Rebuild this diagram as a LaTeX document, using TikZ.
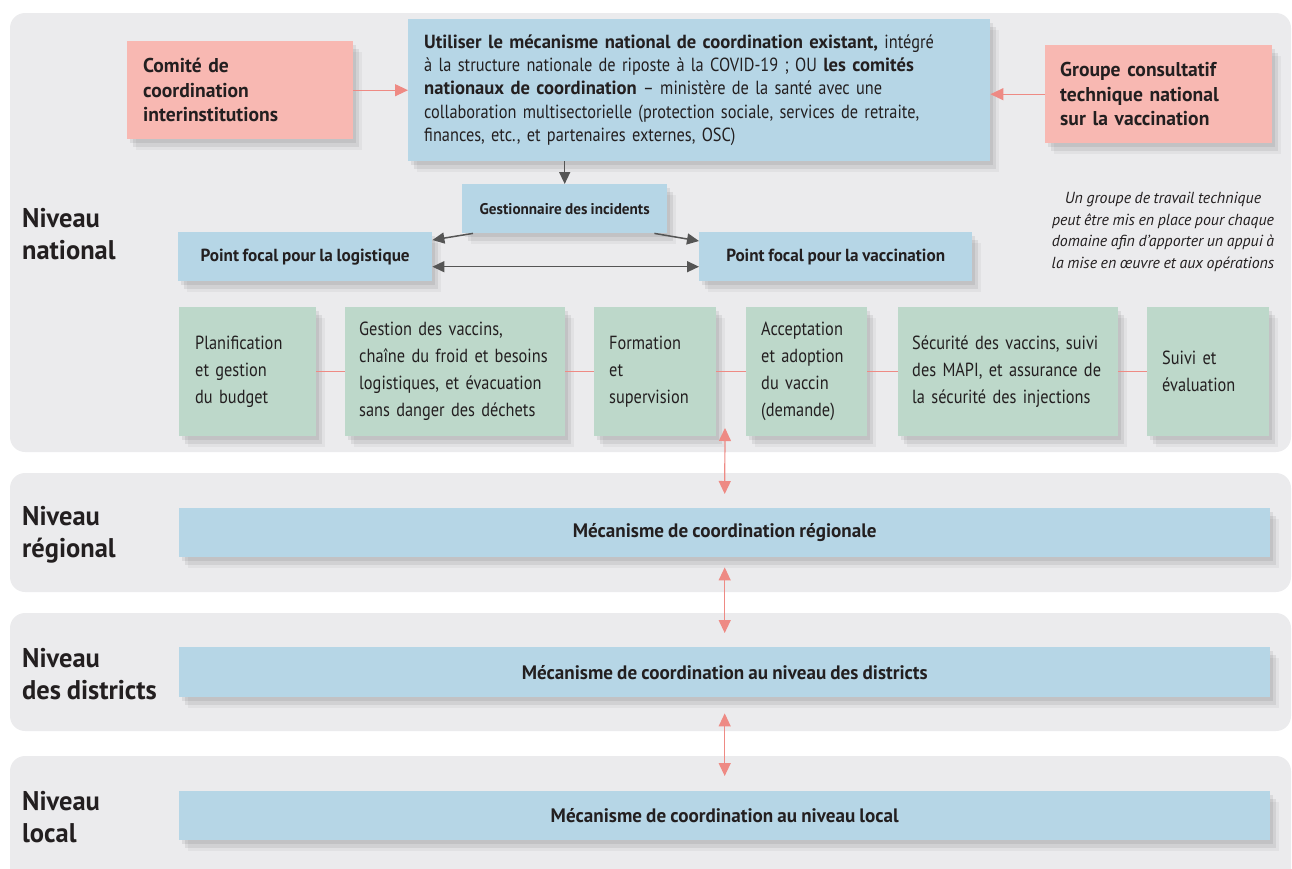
\documentclass[tikz,border=0pt]{standalone}
\usepackage{fontspec}
\setmainfont{PT Sans}[FakeStretch=0.86,WordSpace=0.85,BoldFeatures={FakeStretch=0.98},ItalicFeatures={FakeStretch=0.99}]
\usetikzlibrary{arrows.meta,shadows}
\definecolor{bandgray}{RGB}{235,235,237}
\definecolor{boxblue}{RGB}{182,214,230}
\definecolor{boxpink}{RGB}{248,184,178}
\definecolor{boxgreen}{RGB}{189,216,202}
\definecolor{arrowpink}{RGB}{238,138,132}
\definecolor{arrowgray}{RGB}{85,85,85}
\definecolor{inkdark}{RGB}{35,31,32}
\newcommand\nohyph{\hyphenpenalty 10000\relax}
\tikzset{
  boxshadow/.style={drop shadow={shadow xshift=3pt,shadow yshift=-4pt,opacity=0.07,fill=black},
                    drop shadow={shadow xshift=6pt,shadow yshift=-8pt,opacity=0.07,fill=black},
                    drop shadow={shadow xshift=9pt,shadow yshift=-11pt,opacity=0.04,fill=black}},
  card/.style={draw=none,boxshadow,inner ysep=0pt,text=inkdark,anchor=north west},
  bluecard/.style={card,fill=boxblue},
  pinkcard/.style={card,fill=boxpink,align=left,font=\bfseries\fontsize{20}{24.5}\selectfont},
  greencard/.style={card,fill=boxgreen,align=left,minimum height=129pt,inner xsep=15pt,font=\fontsize{19}{27}\selectfont\nohyph},
  focalcard/.style={bluecard,minimum height=49pt,align=center,font=\bfseries\fontsize{17.5}{20}\selectfont},
  levelbar/.style={bluecard,minimum width=1091pt,minimum height=49pt,font=\bfseries\fontsize{19.5}{22}\selectfont},
  levellabel/.style={anchor=west,inner sep=0pt,align=left,text=inkdark,font=\bfseries\fontsize{27}{31.5}\selectfont},
  band/.style={fill=bandgray,rounded corners=15pt},
  pinkarrow/.style={draw=arrowpink,line width=1.2pt,-{Triangle[length=13pt,width=12pt]}},
  pinkdbl/.style={draw=arrowpink,line width=1.2pt,{Triangle[length=13pt,width=12pt]}-{Triangle[length=13pt,width=12pt]}},
  grayarrow/.style={draw=arrowgray,line width=1.5pt,-{Triangle[length=12pt,width=11pt]}},
  graydbl/.style={draw=arrowgray,line width=1.5pt,{Triangle[length=12pt,width=11pt]}-{Triangle[length=12pt,width=11pt]}},
  pinkline/.style={draw=arrowpink,line width=1pt}
}
\begin{document}
\begin{tikzpicture}[x=1pt,y=1pt,yscale=-1,xscale=1]
\useasboundingbox (0,0) rectangle (1292,868);
%Shape: Bands
\fill [band] (10,13) rectangle (1291,452);
\fill [band] (10,473) rectangle (1291,592);
\fill [band] (10,613) rectangle (1291,731);
\fill [band] (10,756) rectangle (1291,890);
% Text Node: levels
\node [levellabel] (lnat) at (22,234) {Niveau\\national};
\node [levellabel] (lreg) at (22,535) {Niveau\\régional};
\node [levellabel] (ldis) at (22,674) {Niveau\\des districts};
\node [levellabel] (lloc) at (22,817) {Niveau\\local};
%Shape: national coordination
\node [bluecard,minimum width=582pt,minimum height=142pt,inner xsep=16pt,text width=550pt,align=left,font=\fontsize{19}{23.3}\selectfont\nohyph] (main) at (408,19)
  {\textbf{Utiliser le mécanisme national de coordination existant,} intégré\\
   à la structure nationale de riposte à la COVID-19 ; OU \textbf{les comités}\\
   \textbf{nationaux de coordination} -- ministère de la santé avec une\\
   collaboration multisectorielle (protection sociale, services de retraite,\\
   finances, etc., et partenaires externes, OSC)};
\node [pinkcard,minimum width=226pt,minimum height=98pt,inner xsep=16pt,text width=194pt] (cci) at (127,41)
  {Comité de\\coordination\\interinstitutions};
\node [pinkcard,minimum width=227pt,minimum height=98pt,inner xsep=15pt,text width=197pt] (gtcv) at (1045,45)
  {Groupe consultatif\\technique national\\sur la vaccination};
% Text Node
\node [align=center,inner sep=0pt,text=inkdark,font=\itshape\fontsize{16}{21.7}\selectfont] (note) at (1163,232)
  {Un groupe de travail technique\\peut être mis en place pour chaque\\domaine afin d’apporter un appui à\\la mise en œuvre et aux opérations};
%Shape: incident manager and focal points
\node [bluecard,minimum width=205pt,minimum height=49pt,font=\bfseries\fontsize{15.5}{18}\selectfont] (gest) at (462,184) {Gestionnaire des incidents};
\node [focalcard,minimum width=254pt] (log) at (178,232) {Point focal pour la logistique};
\node [focalcard,minimum width=273pt] (vax) at (699,232) {Point focal pour la vaccination};
%Shape: technical areas
\node [greencard,minimum width=137pt,inner xsep=16pt,text width=105pt] (plan) at (179,307) {Planification\\et gestion\\du budget};
\node [greencard,minimum width=220pt,inner xsep=14pt,text width=192pt] (chain) at (345,307) {Gestion des vaccins,\\chaîne du froid et besoins\\logistiques, et évacuation\\sans danger des déchets};
\node [greencard,minimum width=122pt,text width=92pt] (form) at (594,307) {Formation\\et\\supervision};
\node [greencard,minimum width=121pt,text width=91pt] (accept) at (746,307) {Acceptation\\et adoption\\du vaccin\\(demande)};
\node [greencard,minimum width=220pt,inner xsep=14pt,text width=192pt] (secu) at (898,307) {Sécurité des vaccins, suivi\\des MAPI, et assurance de\\la sécurité des injections};
\node [greencard,minimum width=122pt,text width=92pt] (suivi) at (1147,307) {Suivi et\\évaluation};
%Shape: lower levels
\node [levelbar] (reg) at (179,508) {Mécanisme de coordination régionale};
\node [levelbar,minimum height=50pt] (dist) at (179,647) {Mécanisme de coordination au niveau des districts};
\node [levelbar] (loc) at (179,791) {Mécanisme de coordination au niveau local};
%Straight Lines
\draw [pinkarrow] (cci.east) -- (cci.east -| main.west);
\draw [pinkarrow] (gtcv.west) -- (gtcv.west -| main.east);
\draw [grayarrow] (main.south -| gest.north) -- (gest.north);
\draw [grayarrow] ([xshift=11pt]gest.south west) -- ([yshift=8pt]log.north east);
\draw [grayarrow] ([xshift=-13pt]gest.south east) -- ([yshift=9pt]vax.north west);
\draw [graydbl] ([yshift=10pt]log.east) -- ([yshift=10pt]vax.west);
\foreach \a/\b in {plan/chain,chain/form,form/accept,accept/secu,secu/suivi}
  \draw [pinkline] (\a.east) -- (\b.west);
\coordinate (natbase) at (725,428);
\draw [pinkdbl] (natbase) -- ([yshift=-14pt]reg.north);
\draw [pinkdbl] ([yshift=10pt]reg.south) -- ([yshift=-14pt]dist.north);
\draw [pinkdbl] ([yshift=16pt]dist.south) -- ([yshift=-15pt]loc.north);
\end{tikzpicture}
\end{document}
